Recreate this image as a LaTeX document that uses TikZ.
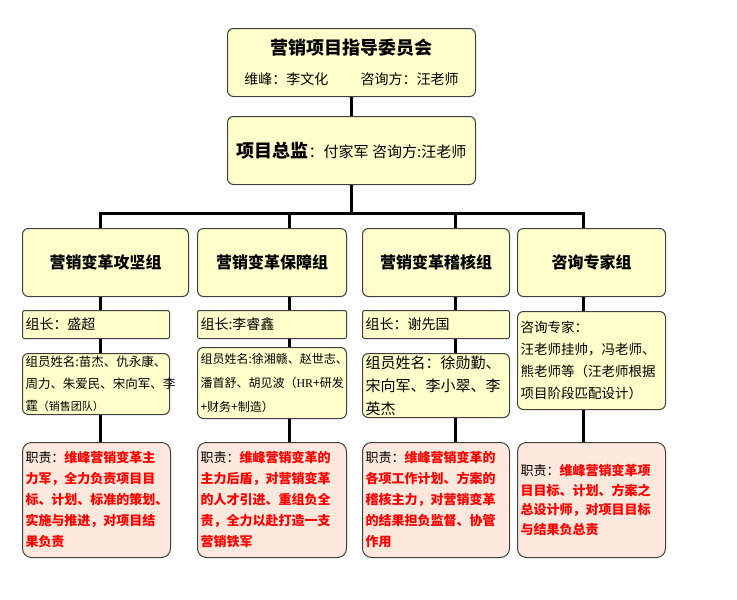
\documentclass[tikz,border=0pt]{standalone}
\usepackage{fontspec}
\setmainfont{Noto Sans CJK SC}
\newfontfamily\latinserif{Liberation Serif}
\usetikzlibrary{calc}
\definecolor{boxyellow}{HTML}{FFFFCC}
\definecolor{boxedge}{HTML}{404040}
\definecolor{dutypink}{HTML}{FCE8DC}
\definecolor{dutyred}{HTML}{FF0000}
\newcommand{\fsz}[2]{\fontsize{#1}{#2}\selectfont}

\tikzset{
  ybox/.style={draw=boxedge, fill=boxyellow, line width=1pt, rounded corners=6pt,
    inner xsep=3pt, inner ysep=1pt, anchor=north west},
  hdrbox/.style={ybox, minimum height=68pt, font=\fsz{16}{20}\bfseries},
  leadbox/.style={ybox, rounded corners=2pt, minimum height=28pt, align=left, font=\fsz{14}{18}},
  membox/.style={ybox, align=left},
  dutybox/.style={ybox, fill=dutypink, rounded corners=9pt, minimum height=115pt,
    align=left, text=dutyred, font=\fsz{13}{21}\bfseries},
  link/.style={line width=3pt},
}

\begin{document}
\begin{tikzpicture}[x=1pt,y=-1pt]
  %%%%% START %%%%%
  \useasboundingbox (0,0) rectangle (737,600);

  % top of the chart
  \node[ybox, minimum width=248pt, minimum height=68pt, align=center, font=\fsz{14}{30}] (board) at (227,28)
    {{\fsz{18}{30}\bfseries 营销项目指导委员会}\\维峰：李文化\hspace{2.3em}咨询方：汪老师};
  \node[ybox, minimum width=248pt, minimum height=68pt, font=\fsz{15}{20}] (director) at (227,116)
    {{\fsz{18}{22}\bfseries 项目总监}：付家军\ 咨询方:汪老师};

  % group headers
  \node[hdrbox, minimum width=166pt] (hdrA) at (22,228) {营销变革攻坚组};
  \node[hdrbox, minimum width=149pt] (hdrB) at (197,228) {营销变革保障组};
  \node[hdrbox, minimum width=147pt] (hdrC) at (362,228) {营销变革稽核组};
  \node[hdrbox, minimum width=148pt] (hdrD) at (517,228) {咨询专家组};

  % leaders
  \node[leadbox, text width=141pt] (leadA) at (22,310) {组长：盛超};
  \node[leadbox, text width=143pt] (leadB) at (197,310) {组长:李睿鑫};
  \node[leadbox, text width=141pt] (leadC) at (362,310) {组长：谢先国};
  \node[membox, text width=142pt, minimum height=98pt, font=\fsz{13.5}{22}] (consult) at (517,311)
    {咨询专家：\\汪老师挂帅，冯老师、\\熊老师等（汪老师根据\\项目阶段匹配设计）};

  % members
  \node[membox, text width=141pt, minimum height=61pt, font=\fsz{12.5}{22}] (memA) at (22,353)
    {组员姓名:苗杰、仇永康、\\周力、朱爱民、宋向军、李\\霆{\fsz{11}{22}（销售团队）}};
  \node[membox, text width=143pt, minimum height=71pt, font=\fsz{12}{24}] (memB) at (197,347)
    {组员姓名:徐湘赣、赵世志、\\潘首舒、胡见波（{\latinserif HR}+研发\\+财务+制造）};
  \node[membox, text width=141pt, minimum height=64pt, font=\fsz{15}{23}] (memC) at (362,353)
    {组员姓名：徐勋勤、\\宋向军、李小翠、李\\英杰};

  % duties
  \node[dutybox, text width=142pt] (dutyA) at (22,442)
    {{\color{black}\mdseries 职责：}维峰营销变革主\\力军，全力负责项目目\\标、计划、标准的策划、\\实施与推进，对项目结\\果负责};
  \node[dutybox, text width=143pt] (dutyB) at (197,442)
    {{\color{black}\mdseries 职责：}维峰营销变革的\\主力后盾，对营销变革\\的人才引进、重组负全\\责，全力以赴打造一支\\营销铁军};
  \node[dutybox, text width=141pt] (dutyC) at (362,442)
    {{\color{black}\mdseries 职责：}维峰营销变革的\\各项工作计划、方案的\\稽核主力，对营销变革\\的结果担负监督、协管\\作用};
  \node[dutybox, text width=142pt, font=\fsz{13}{19.5}\bfseries] (dutyD) at (517,442)
    {{\color{black}\mdseries 职责：}维峰营销变革项\\目目标、计划、方案之\\总设计师，对项目目标\\与结果负总责};

  % connectors
  \coordinate (colA) at (100,213);
  \coordinate (colB) at (289,213);
  \coordinate (colC) at (455,213);
  \coordinate (colD) at (583,213);

  \draw[link] (board.south) -- (director.north);
  \draw[link] (director.south) -- (director.south |- colA);
  \draw[link] ($(colA)+(-1.5,0)$) -- ($(colD)+(1.5,0)$);

  \foreach \c in {A,B,C}{
    \draw[link] (col\c) -- (col\c |- hdr\c.north);
    \draw[link] (col\c |- hdr\c.south) -- (col\c |- lead\c.north);
    \draw[link] (col\c |- lead\c.south) -- (col\c |- mem\c.north);
    \draw[link] (col\c |- mem\c.south) -- (col\c |- duty\c.north);
  }
  \draw[link] (colD) -- (colD |- hdrD.north);
  \draw[link] (colD |- hdrD.south) -- (colD |- consult.north);
  \draw[link] (colD |- consult.south) -- (colD |- dutyD.north);

  %%%%% END %%%%%
\end{tikzpicture}
\end{document}
